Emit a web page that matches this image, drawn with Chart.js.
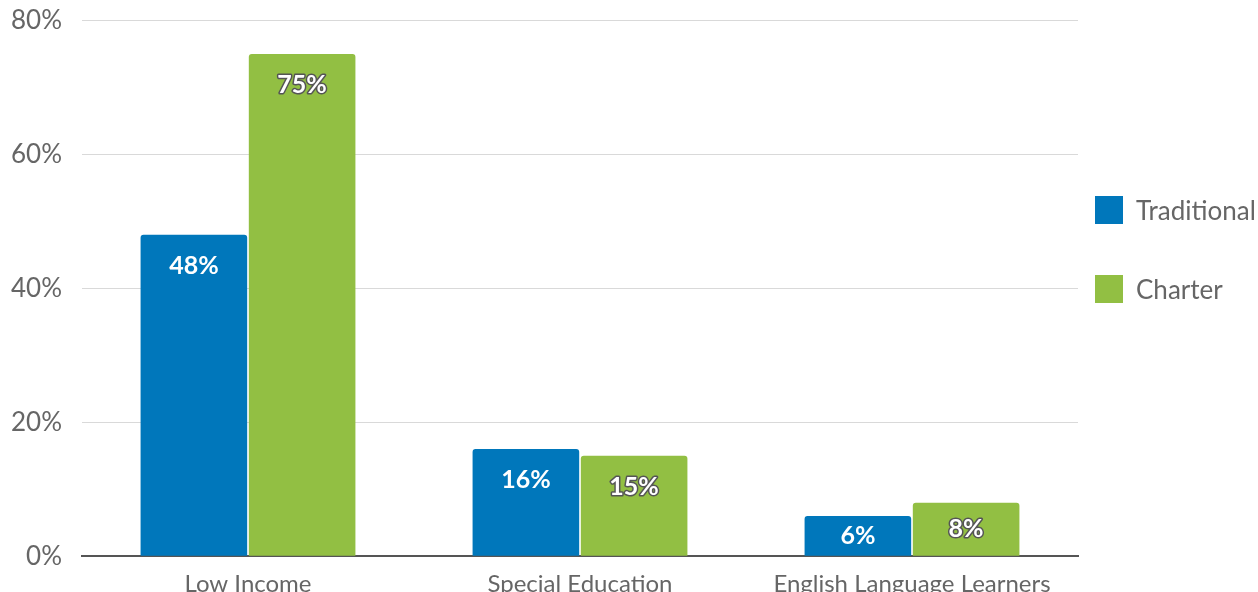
<!DOCTYPE html>
<html>
<head>
<meta charset="utf-8">
<script src="https://cdn.jsdelivr.net/npm/chart.js"></script>
<style>
  html, body { margin: 0; padding: 0; background: #fff; overflow: hidden; }
  #wrap { position: relative; width: 1258px; height: 592px; overflow: hidden; }
  #wrap canvas { position: absolute; left: 0; top: -15px; }
  #legend { position: absolute; left: 1095px; top: 196px; font-family: Lato, sans-serif; font-size: 26px; color: #666; }
  #legend .item { display: flex; align-items: center; height: 28px; margin-bottom: 51px; white-space: nowrap; }
  #legend .box { width: 28px; height: 28px; margin-right: 13px; }
</style>
</head>
<body>
<div id="wrap">
  <canvas id="schoolChart"></canvas>
  <div id="legend"></div>
</div>
<script>
// Alumnos por tipo de escuela (%)
const categorias = ['Low Income', 'Special Education', 'English Language Learners'];
const traditional = [48, 16, 6];
const charter = [75, 15, 8];
const ticksY = [0, 20, 40, 60, 80];

const colorTraditional = '#0077bb';
const colorCharter = '#92bf43';
const fontFamily = 'Lato, sans-serif';

// Etiquetas de valor dentro de cada barra
const valueLabels = {
  id: 'valueLabels',
  afterDatasetsDraw(chart) {
    const ctx = chart.ctx;
    ctx.save();
    ctx.font = `bold 25px ${fontFamily}`;
    ctx.textAlign = 'center';
    ctx.textBaseline = 'middle';
    chart.data.datasets.forEach((ds, i) => {
      const meta = chart.getDatasetMeta(i);
      meta.data.forEach((bar, j) => {
        const y = Math.min(bar.y + 31, (bar.y + bar.base) / 2);
        const text = `${Math.round(ds.data[j])}%`;
        if (ds.outline) {
          ctx.lineWidth = 3;
          ctx.strokeStyle = '#555';
          ctx.lineJoin = 'round';
          ctx.strokeText(text, bar.x, y);
        }
        ctx.fillStyle = '#fff';
        ctx.fillText(text, bar.x, y);
      });
    });
    ctx.restore();
  }
};

let myChart;
function chartEscuelas() {
  const canvas = document.getElementById('schoolChart');
  canvas.width = 1258;
  canvas.height = 620;
  myChart = new Chart(canvas, {
    type: 'bar',
    data: {
      labels: categorias,
      datasets: [{
        label: 'Traditional',
        data: traditional,
        backgroundColor: colorTraditional,
        borderRadius: { topLeft: 3, topRight: 3 },
        borderSkipped: 'bottom',
      }, {
        label: 'Charter',
        data: charter,
        backgroundColor: colorCharter,
        borderRadius: { topLeft: 3, topRight: 3 },
        borderSkipped: 'bottom',
        outline: true,
      }],
    },
    options: {
      responsive: false,
      animation: false,
      devicePixelRatio: 1,
      categoryPercentage: 0.652,
      barPercentage: 0.985,
      layout: { padding: { left: 0, right: 180, top: 6, bottom: 0 } },
      plugins: {
        legend: { display: false },
        tooltip: { enabled: false },
      },
      scales: {
        x: {
          grid: { display: false },
          border: { display: true, color: '#555', width: 2 },
          ticks: { color: '#666', padding: 6, font: { family: fontFamily, size: 24 } },
        },
        y: {
          min: 0,
          max: 80,
          afterBuildTicks: (axis) => { axis.ticks = ticksY.map(v => ({ value: v })); },
          afterFit: (axis) => { axis.width = 82; },
          grid: { color: '#d9d9d9', drawTicks: false },
          border: { display: false },
          ticks: {
            color: '#666',
            padding: 20,
            font: { family: fontFamily, size: 26 },
            callback: (v) => `${v}%`,
          },
        },
      },
    },
    plugins: [valueLabels],
  });

  // Leyenda a la derecha
  const legend = document.getElementById('legend');
  myChart.data.datasets.forEach(ds => {
    const item = document.createElement('div');
    item.className = 'item';
    item.innerHTML = `<span class="box" style="background:${ds.backgroundColor}"></span><span>${ds.label}</span>`;
    legend.appendChild(item);
  });
}
chartEscuelas();
</script>
</body>
</html>
